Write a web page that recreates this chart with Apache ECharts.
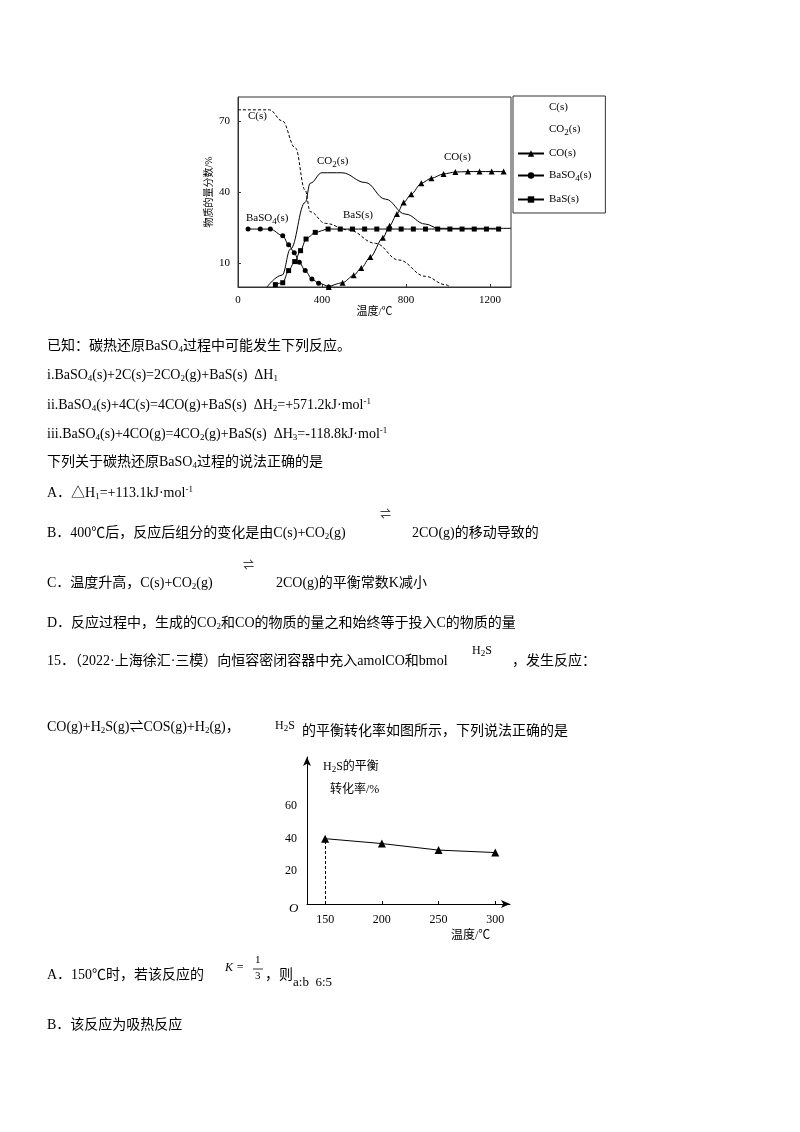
<!DOCTYPE html>
<html><head><meta charset="utf-8">
<script src="https://cdn.jsdelivr.net/npm/echarts@6/dist/echarts.min.js"></script>
<style>html,body{margin:0;background:#fff}#main{width:800px;height:1132px}</style>
</head><body><div id="main"></div>
<script>
// chart 1: temperature vs amount fraction
var cData = [[0,74.6],[150,74.6],[210,70],[273,58.6],[320,40.7],[344,31.7],[416,26.8],[527,24],[654,18.4],[765,11.4],[892,4.5],[987,1],[1010,0]];
var co2Data = [[138,0],[210,5],[250,16],[320,35.6],[344,43.7],[400,48.1],[495,48.1],[606,44],[702,37],[797,30.7],[892,26.5],[955,24.7],[1300,24.7]];
var coData = [[432,0],[498,1.8],[551,4.9],[587,8],[630,12.6],[690,20.7],[722,25.8],[757,30.7],[789,35.6],[825,39.1],[873,43.7],[921,45.8],[979,47.6],[1035,48.4],[1095,48.6],[1150,48.6],[1208,48.6],[1265,48.6]];
var baso4Data = [[48,24.4],[106,24.4],[154,24.4],[213,21.6],[241,17.8],[268,14.4],[292,10.4],[320,6.9],[352,3.4],[384,1.6],[432,0]];
var basData = [[178,1],[213,1.8],[241,6.9],[270,10.7],[298,15.3],[324,20.2],[368,23],[429,24.4],[487,24.4],[545,24.4],[603,24.4],[661,24.4],[719,24.4],[777,24.4],[835,24.4],[893,24.4],[951,24.4],[1009,24.4],[1067,24.4],[1125,24.4],[1183,24.4],[1241,24.4]];
var xTicks1 = [0, 400, 800, 1200];
var yTicks1 = [10, 40, 70];
// chart 2: H2S conversion
var temps2 = [150, 200, 250, 300];
var conv2 = [40, 37, 33, 31.5];
var xTicks2 = [150, 200, 250, 300];
var yTicks2 = [20, 40, 60];

var F = '"Liberation Serif","Noto Sans CJK SC",serif';
var rich = {
  s: {fontSize: 9, verticalAlign: 'bottom', padding: [6,0,0,0], fontFamily: F},
  u: {fontSize: 9, verticalAlign: 'top', padding: [0,0,7,0], fontFamily: F}
};
function T(x, y, text, size, extra) {
  var o = {type: 'text', x: x, y: y, style: {text: text, fontSize: size || 14, fontFamily: F, fill: '#000', rich: rich}};
  if (extra) for (var k in extra) o.style[k] = extra[k];
  return o;
}
var blk = '#000';
var chart = echarts.init(document.getElementById('main'));
chart.setOption({
  animation: false,
  textStyle: {fontFamily: F, color: '#000'},
  legend: {
    orient: 'vertical', left: 513, top: 96, itemGap: 11, itemWidth: 26, itemHeight: 8,
    borderColor: '#333', borderWidth: 1, padding: [6, 14, 8, 4],
    textStyle: {fontSize: 11, color: '#000', fontFamily: F, rich: rich},
    data: [{name: 'C(s)', icon: 'none'}, {name: 'CO2', icon: 'none'}, 'CO(s)', 'BaSO4', 'BaS(s)'],
    formatter: function (n) {
      if (n === 'CO2') return 'CO{s|2}(s)';
      if (n === 'BaSO4') return 'BaSO{s|4}(s)';
      return n;
    }
  },
  grid: [
    {left: 238, top: 97, width: 273, height: 190, show: true, borderColor: '#333', borderWidth: 1},
    {left: 307, top: 757, width: 203, height: 147}
  ],
  xAxis: [
    {gridIndex: 0, type: 'value', min: 0, max: 1300, splitLine: {show: false},
      axisLine: {lineStyle: {color: '#333'}}, axisTick: {customValues: xTicks1, inside: true, length: 3},
      axisLabel: {customValues: xTicks1, fontSize: 11, color: '#000', formatter: function (v) { return String(v); }},
      name: '温度/℃', nameLocation: 'middle', nameGap: 20, nameTextStyle: {fontSize: 11}},
    {gridIndex: 1, type: 'value', min: 134, max: 313, splitLine: {show: false},
      axisLine: {symbol: ['none', 'arrow'], symbolSize: [6, 9], lineStyle: {color: '#000'}},
      axisTick: {customValues: xTicks2, inside: true, length: 3},
      axisLabel: {customValues: xTicks2, fontSize: 12, color: '#000', margin: 10}}
  ],
  yAxis: [
    {gridIndex: 0, type: 'value', min: 0, max: 80, splitLine: {show: false},
      axisLine: {lineStyle: {color: '#333'}}, axisTick: {customValues: yTicks1, inside: true, length: 3},
      axisLabel: {customValues: yTicks1, fontSize: 11, color: '#000'},
      name: '物质的量分数/%', nameLocation: 'middle', nameGap: 24, nameTextStyle: {fontSize: 10}},
    {gridIndex: 1, type: 'value', min: 0, max: 90, splitLine: {show: false},
      axisLine: {show: true, symbol: ['none', 'arrow'], symbolSize: [6, 9], lineStyle: {color: '#000'}},
      axisTick: {show: false},
      axisLabel: {customValues: yTicks2, fontSize: 12, color: '#000', margin: 10}}
  ],
  series: [
    {name: 'C(s)', type: 'line', data: cData, smooth: 0.4, smoothMonotone: 'x', symbol: 'none',
      lineStyle: {color: blk, width: 1, type: [3, 2]}, itemStyle: {color: blk}},
    {name: 'CO2', type: 'line', data: co2Data, smooth: 0.4, smoothMonotone: 'x', symbol: 'none',
      lineStyle: {color: blk, width: 1}, itemStyle: {color: blk}},
    {name: 'CO(s)', type: 'line', data: coData, smooth: 0.3, smoothMonotone: 'x', symbol: 'triangle', symbolSize: 6,
      lineStyle: {color: blk, width: 1}, itemStyle: {color: blk}},
    {name: 'BaSO4', type: 'line', data: baso4Data, smooth: 0.3, smoothMonotone: 'x', symbol: 'circle', symbolSize: 5,
      lineStyle: {color: blk, width: 1}, itemStyle: {color: blk}},
    {name: 'BaS(s)', type: 'line', data: basData, smooth: 0.3, smoothMonotone: 'x', symbol: 'rect', symbolSize: 5,
      lineStyle: {color: blk, width: 1}, itemStyle: {color: blk}},
    {name: 'H2S', type: 'line', xAxisIndex: 1, yAxisIndex: 1,
      data: temps2.map(function (t, i) { return [t, conv2[i]]; }),
      symbol: 'triangle', symbolSize: 8, lineStyle: {color: blk, width: 1}, itemStyle: {color: blk},
      markLine: {symbol: 'none', silent: true, label: {show: false},
        lineStyle: {color: blk, type: [3, 2], width: 1},
        data: [[{coord: [temps2[0], 0]}, {coord: [temps2[0], conv2[0]]}]]}}
  ],
  graphic: [
    T(248, 111, 'C(s)', 11), T(317, 154, 'CO{s|2}(s)', 11), T(444, 152, 'CO(s)', 11),
    T(246, 211, 'BaSO{s|4}(s)', 11), T(343, 210, 'BaS(s)', 11),
    T(323, 759, 'H{s|2}S的平衡', 12), T(330, 784, '转化率/%', 12),
    T(289, 902, 'O', 13, {fontStyle: 'italic'}), T(451, 930, '温度/℃', 12),
    T(47, 339, '已知：碳热还原BaSO{s|4}过程中可能发生下列反应。'),
    T(47, 368, 'i.BaSO{s|4}(s)+2C(s)=2CO{s|2}(g)+BaS(s)  ΔH{s|1}'),
    T(47, 397, 'ii.BaSO{s|4}(s)+4C(s)=4CO(g)+BaS(s)  ΔH{s|2}=+571.2kJ·mol{u|-1}'),
    T(47, 426, 'iii.BaSO{s|4}(s)+4CO(g)=4CO{s|2}(g)+BaS(s)  ΔH{s|3}=-118.8kJ·mol{u|-1}'),
    T(47, 455, '下列关于碳热还原BaSO{s|4}过程的说法正确的是'),
    T(47, 485, 'A．△H{s|1}=+113.1kJ·mol{u|-1}'),
    T(47, 526, 'B．400℃后，反应后组分的变化是由C(s)+CO{s|2}(g)'),
    T(380, 510, '⇌', 11), T(412, 526, '2CO(g)的移动导致的'),
    T(47, 576, 'C．温度升高，C(s)+CO{s|2}(g)'), T(243, 561, '⇌', 11),
    T(276, 576, '2CO(g)的平衡常数K减小'),
    T(47, 616, 'D．反应过程中，生成的CO{s|2}和CO的物质的量之和始终等于投入C的物质的量'),
    T(47, 654, '15．（2022·上海徐汇·三模）向恒容密闭容器中充入amolCO和bmol'),
    T(472, 643, 'H{s|2}S', 12), T(512, 654, '，发生反应：'),
    T(47, 720, 'CO(g)+H{s|2}S(g)⇌COS(g)+H{s|2}(g)，'), T(275, 718, 'H{s|2}S', 12),
    T(302, 724, '的平衡转化率如图所示，下列说法正确的是'),
    T(47, 968, 'A．150℃时，若该反应的'), T(225, 962, 'K =', 12, {fontStyle: 'italic'}),
    T(255, 955, '1', 11), T(255, 971, '3', 11),
    {type: 'line', shape: {x1: 253, y1: 969, x2: 263, y2: 969}, style: {stroke: '#000', lineWidth: 0.8}},
    T(265, 968, '，则'), T(293, 976, 'a:b  6:5', 13),
    T(47, 1018, 'B．该反应为吸热反应')
  ]
});
</script></body></html>
